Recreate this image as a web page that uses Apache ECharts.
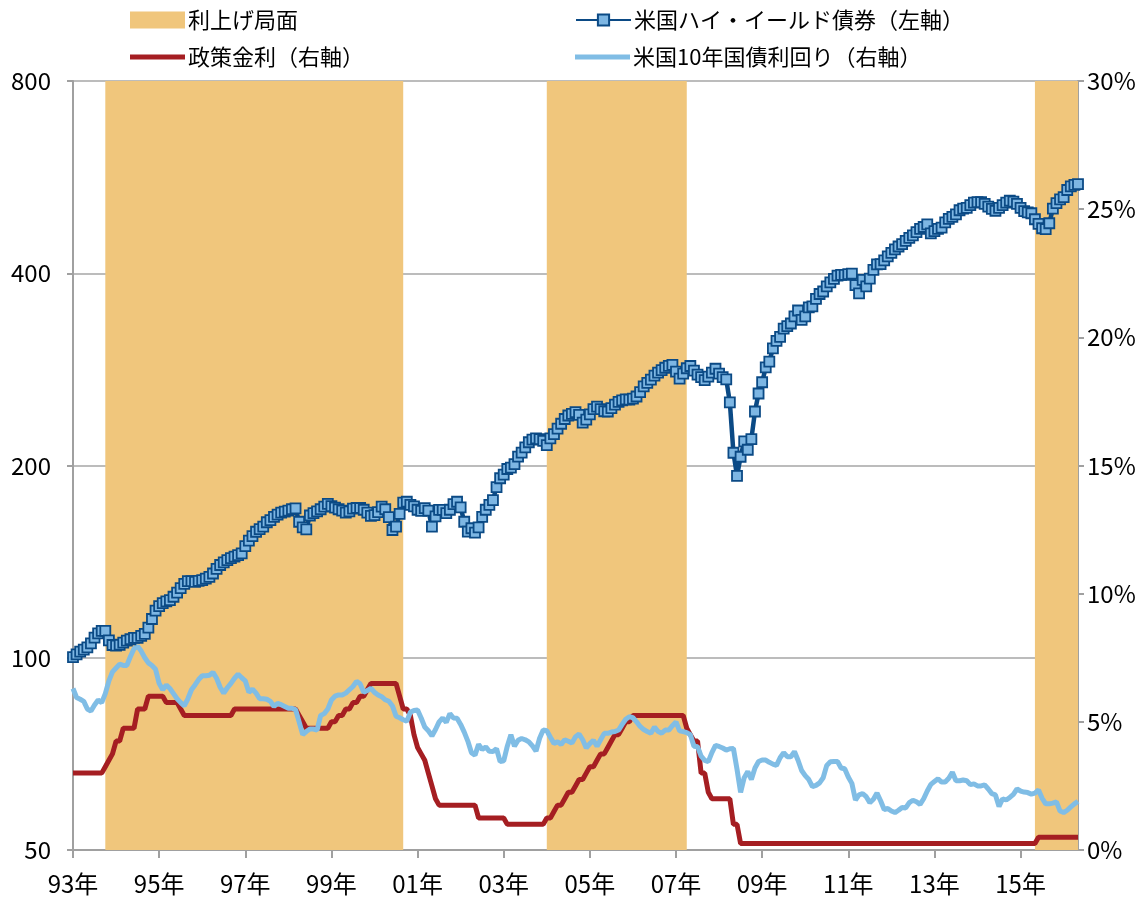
<!DOCTYPE html>
<html>
<head>
<meta charset="utf-8">
<script src="https://cdn.jsdelivr.net/npm/echarts@6/dist/echarts.min.js"></script>
<style>
html,body{margin:0;padding:0;background:#fff;}
#c{width:1148px;height:897px;}
</style>
</head>
<body>
<div id="c"></div>
<script>
// ---- data (monthly, first point = left edge "93年") ----
var startYear = 1993;
var tickLabels = ['93年','95年','97年','99年','01年','03年','05年','07年','09年','11年','13年','15年'];
var leftTicks = [50, 100, 200, 400, 800];

// 米国ハイ・イールド債券 (index level, left log axis)
var hyIndex = [
100.2,101.2,102.2,103.0,103.8,105.3,107.5,109.2,110.2,110.2,
106.5,104.7,104.5,104.8,105.6,106.4,106.9,107.4,107.4,108.2,
109.0,111.5,115.0,118.5,120.5,121.8,122.5,123.1,124.6,126.5,
128.5,130.5,131.8,131.8,131.5,131.9,132.3,133.0,133.9,135.5,
137.8,139.7,141.0,142.2,143.2,144.0,144.8,145.7,149.5,152.5,
155.0,157.5,159.0,160.5,163.0,164.3,166.2,167.5,168.7,169.3,
170.0,170.8,171.4,163.3,160.0,158.9,167.0,168.5,169.5,170.8,
172.5,174.1,172.8,171.8,170.8,170.0,168.8,169.5,171.2,171.6,
171.6,170.5,168.8,166.8,167.2,169.0,172.4,170.8,166.0,158.5,
160.5,168.0,175.0,175.5,173.5,172.6,170.5,169.8,171.5,170.0,
160.4,166.5,170.4,170.4,168.5,170.5,174.0,175.5,172.0,163.3,
157.6,159.5,157.0,160.0,166.2,170.5,173.5,176.5,185.0,191.0,
193.5,197.5,198.5,201.0,206.5,209.5,213.5,217.5,219.5,220.6,
220.0,218.5,215.3,220.5,224.0,228.5,232.5,236.5,239.5,241.0,
242.5,240.0,233.5,236.0,240.5,245.0,247.3,245.0,243.2,243.0,
246.0,249.0,251.5,253.0,253.9,253.6,254.5,256.5,260.5,266.0,
269.5,272.5,276.5,279.5,282.0,284.5,286.5,287.4,280.5,273.5,
278.5,284.0,286.3,281.5,277.5,275.0,272.0,275.5,279.5,283.5,
278.5,275.0,272.9,251.2,209.4,192.7,206.4,218.2,211.7,220.0,
243.0,259.3,270.0,284.8,290.8,305.0,313.5,318.0,327.5,330.5,
333.7,342.5,349.7,338.0,342.5,353.7,355.0,364.6,371.2,374.5,
381.5,387.0,392.0,396.5,397.6,397.6,398.8,399.4,383.2,372.0,
390.5,381.5,392.2,404.9,412.9,413.5,419.0,425.0,430.5,436.0,
440.5,444.3,449.5,454.5,458.5,464.0,469.5,472.6,477.0,461.8,
465.5,469.5,471.5,480.5,486.5,490.0,494.5,502.0,505.0,506.5,
511.5,516.0,516.9,516.9,513.5,508.5,504.5,501.1,506.5,511.5,
516.0,519.5,518.0,513.5,506.5,500.5,498.0,496.6,486.0,478.0,
470.5,469.0,479.0,505.0,515.0,522.0,526.4,540.0,547.1,550.0,
551.7
];

// 政策金利 (%, right axis)
var policyRate = [
3,3,3,3,3,3,3,3,3,3.25,
3.5,3.75,4.25,4.25,4.75,4.75,4.75,4.75,5.5,5.5,
5.5,6,6,6,6,6,5.75,5.75,5.75,5.75,
5.5,5.25,5.25,5.25,5.25,5.25,5.25,5.25,5.25,5.25,
5.25,5.25,5.25,5.25,5.25,5.5,5.5,5.5,5.5,5.5,
5.5,5.5,5.5,5.5,5.5,5.5,5.5,5.5,5.5,5.5,
5.5,5.5,5.5,5.25,5,4.75,4.75,4.75,4.75,4.75,
4.75,4.75,5,5,5.25,5.25,5.5,5.5,5.75,5.75,
6,6,6.25,6.5,6.5,6.5,6.5,6.5,6.5,6.5,
6.5,6,5.5,5.5,5.25,4.5,4,3.75,3.5,3,
2.5,2,1.75,1.75,1.75,1.75,1.75,1.75,1.75,1.75,
1.75,1.75,1.75,1.25,1.25,1.25,1.25,1.25,1.25,1.25,
1.25,1,1,1,1,1,1,1,1,1,
1,1,1.25,1.25,1.5,1.75,1.75,2,2.25,2.25,
2.5,2.75,2.75,3,3.25,3.25,3.5,3.75,3.75,4,
4.25,4.5,4.5,4.75,5,5,5.25,5.25,5.25,5.25,
5.25,5.25,5.25,5.25,5.25,5.25,5.25,5.25,5.25,5.25,
5.25,4.75,4.5,4.25,4.25,3,3,2.25,2,2,
2,2,2,2,1,1,0.25,0.25,0.25,0.25,
0.25,0.25,0.25,0.25,0.25,0.25,0.25,0.25,0.25,0.25,
0.25,0.25,0.25,0.25,0.25,0.25,0.25,0.25,0.25,0.25,
0.25,0.25,0.25,0.25,0.25,0.25,0.25,0.25,0.25,0.25,
0.25,0.25,0.25,0.25,0.25,0.25,0.25,0.25,0.25,0.25,
0.25,0.25,0.25,0.25,0.25,0.25,0.25,0.25,0.25,0.25,
0.25,0.25,0.25,0.25,0.25,0.25,0.25,0.25,0.25,0.25,
0.25,0.25,0.25,0.25,0.25,0.25,0.25,0.25,0.25,0.25,
0.25,0.25,0.25,0.25,0.25,0.25,0.25,0.25,0.25,0.5,
0.5,0.5,0.5,0.5,0.5,0.5,0.5,0.5,0.5,0.5,
0.5
];

// 米国10年国債利回り (%, right axis)
var ust10y = [
6.3,5.95,5.88,5.8,5.5,5.42,5.66,5.85,5.75,6.1,
6.6,6.95,7.1,7.25,7.2,7.2,7.55,7.85,7.95,7.76,
7.5,7.3,7.2,7.05,6.5,6.25,6.44,6.3,6.1,5.9,
5.75,5.62,5.9,6.25,6.44,6.65,6.8,6.8,6.82,6.93,
6.7,6.35,6.12,6.33,6.5,6.7,6.86,6.72,6.6,6.15,
6.28,6.12,5.9,5.9,5.88,5.8,5.6,5.72,5.67,5.6,
5.53,5.53,5.48,5.0,4.5,4.62,4.72,4.72,4.68,5.25,
5.32,5.5,5.85,6.0,6.05,6.05,6.12,6.25,6.38,6.58,
6.48,6.15,6.22,6.31,6.15,6.05,5.98,5.86,5.8,5.62,
5.22,5.16,5.08,5.02,5.38,5.44,5.46,5.15,4.8,4.65,
4.45,4.7,5.0,5.15,4.98,5.32,5.15,5.14,4.9,4.6,
4.25,3.8,3.7,4.12,3.92,4.02,3.85,3.84,3.95,3.45,
3.48,4.05,4.5,4.05,4.28,4.35,4.3,4.22,4.06,3.86,
4.36,4.68,4.65,4.4,4.16,4.22,4.12,4.3,4.24,4.17,
4.42,4.52,4.3,3.98,4.15,4.28,4.05,4.3,4.55,4.55,
4.6,4.62,4.68,4.9,5.1,5.2,5.16,5.0,4.82,4.7,
4.62,4.55,4.8,4.62,4.56,4.68,4.68,4.85,5.0,4.65,
4.62,4.58,4.5,4.05,4.03,3.66,3.5,3.45,3.8,4.08,
4.04,3.98,3.9,3.95,3.96,3.15,2.25,2.82,3.06,2.75,
3.2,3.45,3.51,3.51,3.42,3.35,3.3,3.6,3.8,3.64,
3.64,3.84,3.5,3.1,2.9,2.75,2.47,2.52,2.62,2.82,
3.3,3.44,3.45,3.45,3.2,3.17,2.85,2.6,1.95,2.15,
2.2,2.08,1.85,1.98,2.22,1.92,1.58,1.62,1.52,1.46,
1.55,1.66,1.64,1.85,1.94,1.88,1.78,2.0,2.3,2.56,
2.67,2.78,2.65,2.65,2.8,3.03,2.7,2.7,2.73,2.7,
2.55,2.58,2.5,2.5,2.54,2.38,2.2,2.15,1.7,2.0,
1.95,2.05,2.17,2.38,2.3,2.26,2.24,2.18,2.22,2.34,
2.02,1.8,1.8,1.83,1.88,1.52,1.46,1.55,1.68,1.8,
1.9
];

// 利上げ局面: [start month index, end month index]
var hikePhases = [[9, 92], [132, 171], [268, 280]];

// ---- build ----
var categories = [];
for (var i = 0; i < hyIndex.length; i++) {
  var y = startYear + Math.floor(i / 12), m = i % 12 + 1;
  categories.push('M' + y + '_' + m);
}
var hikeAreas = hikePhases.map(function (p) {
  return [{xAxis: categories[p[0]]}, {xAxis: categories[p[1]]}];
});
var emptyData = categories.map(function () { return '-'; });

var FONT = 'Noto Sans CJK JP';
var AXIS_GRAY = '#A0A0A0';
var SHADE = '#F0C67C';
var names = ['利上げ局面', '政策金利（右軸）', '米国ハイ・イールド債券（左軸）', '米国10年国債利回り（右軸）'];
function every24(idx) { return idx % 24 === 0; }
function legendAt(left, top, name, h, icon) {
  var d = icon ? {name: name, icon: icon} : {name: name};
  return {
    orient: 'vertical', left: left, top: top, padding: 0,
    itemWidth: 55, itemHeight: h, itemGap: 0, selectedMode: false,
    textStyle: {fontSize: 22, color: '#000', fontFamily: FONT, padding: [0, 0, 0, -2]},
    data: [d]
  };
}

var chart = echarts.init(document.getElementById('c'), null, {renderer: 'canvas'});
chart.setOption({
  animation: false,
  backgroundColor: '#fff',
  textStyle: {fontFamily: FONT},
  grid: {left: 73, right: 70, top: 81, bottom: 47, containLabel: false},
  legend: [
    legendAt(130, 9, names[0], 17, 'rect'),
    legendAt(130, 46, names[1], 5, 'rect'),
    legendAt(575, 9, names[2], 14, null),
    legendAt(575, 46, names[3], 5, 'rect')
  ],
  xAxis: {
    type: 'category', data: categories, boundaryGap: false,
    axisLine: {show: true, lineStyle: {color: AXIS_GRAY, width: 2}},
    axisTick: {show: true, interval: function (idx) { return every24(idx); }, length: 8, lineStyle: {color: AXIS_GRAY, width: 2}},
    axisLabel: {
      interval: function (idx) { return every24(idx); },
      formatter: function (v, idx) { return tickLabels[idx / 24]; },
      fontSize: 24, color: '#000', fontFamily: FONT, margin: 22
    },
    splitLine: {show: false}
  },
  yAxis: [{
    type: 'log', logBase: 2, min: 50, max: 800,
    axisLine: {show: true, lineStyle: {color: AXIS_GRAY, width: 2}},
    axisTick: {show: true, customValues: leftTicks, length: 6, lineStyle: {color: AXIS_GRAY, width: 2}},
    axisLabel: {customValues: leftTicks, formatter: function (v) { return String(Math.round(v)); }, fontSize: 24, color: '#000', fontFamily: FONT, margin: 22},
    splitLine: {show: true, lineStyle: {color: '#A6A6A6', width: 1.5}}
  }, {
    type: 'value', min: 0, max: 30, interval: 5, position: 'right',
    axisLine: {show: true, lineStyle: {color: AXIS_GRAY, width: 2}},
    axisTick: {show: true, length: 6, lineStyle: {color: AXIS_GRAY, width: 2}},
    axisLabel: {formatter: '{value}%', fontSize: 24, color: '#000', fontFamily: FONT, margin: 9},
    splitLine: {show: false}
  }],
  series: [{
    name: names[0], type: 'line', yAxisIndex: 1, data: emptyData, z: 1, silent: true,
    symbol: 'none', lineStyle: {width: 0, color: SHADE}, itemStyle: {color: SHADE},
    markArea: {silent: true, itemStyle: {color: SHADE, opacity: 1}, data: hikeAreas}
  }, {
    name: names[1], type: 'line', yAxisIndex: 1, data: policyRate,
    symbol: 'none', z: 3,
    lineStyle: {color: '#A51E22', width: 5}, itemStyle: {color: '#A51E22'}
  }, {
    name: names[3], type: 'line', yAxisIndex: 1, data: ust10y,
    symbol: 'none', z: 4,
    lineStyle: {color: '#80BDE5', width: 5}, itemStyle: {color: '#80BDE5'}
  }, {
    name: names[2], type: 'line', yAxisIndex: 0, data: hyIndex,
    symbol: 'rect', symbolSize: 10, showAllSymbol: true, z: 5,
    lineStyle: {color: '#0B4A85', width: 4.5},
    itemStyle: {color: '#7DB6E3', borderColor: '#0B4A85', borderWidth: 1.8}
  }]
});
</script>
</body>
</html>
